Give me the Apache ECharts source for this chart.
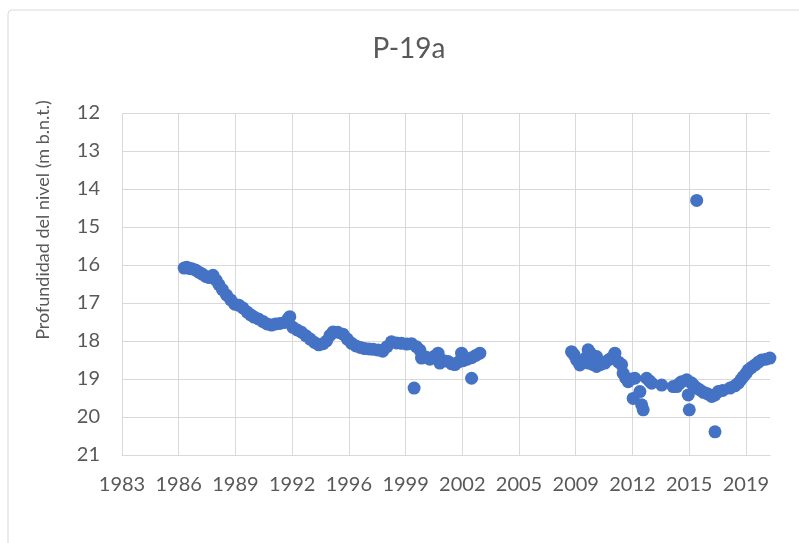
<!DOCTYPE html>
<html>
<head>
<meta charset="utf-8">
<script src="https://cdn.jsdelivr.net/npm/echarts@6/dist/echarts.min.js"></script>
<style>
  html, body { margin: 0; padding: 0; background: #fff; }
  #main { width: 799px; height: 543px; }
</style>
</head>
<body>
<div id="main"></div>
<script>
const TITLE = 'P-19a';
const Y_NAME = 'Profundidad del nivel (m b.n.t.)';
const START_YEAR = 1983;
const DAY_STEP = 1200;
const LAST_DAY = 13710;
const DEPTH_MIN = 12;
const DEPTH_MAX = 21;

// 1986 - 2003 record (decimal years / depth in m)
const yearsA = [1986.60, 1986.75, 1986.90, 1987.05, 1987.25, 1987.45, 1987.65, 1987.85, 1988.05, 1988.27,
  1988.45, 1988.62, 1988.82, 1989.05, 1989.30, 1989.53, 1989.78, 1990.00, 1990.25, 1990.45,
  1990.65, 1990.90, 1991.17, 1991.40, 1991.66, 1991.90, 1992.14, 1992.42, 1992.62, 1992.72,
  1992.90, 1993.15, 1993.40, 1993.65, 1993.90, 1994.15, 1994.40, 1994.65, 1994.85, 1995.05,
  1995.23, 1995.50, 1995.80, 1996.05, 1996.30, 1996.55, 1996.80, 1997.05, 1997.30, 1997.55,
  1997.84, 1998.10, 1998.35, 1998.61, 1998.90, 1999.19, 1999.50, 1999.77, 1999.92, 2000.05,
  2000.25, 2000.35, 2000.60, 2000.83, 2001.10, 2001.31, 2001.41, 2001.65, 2001.89, 2002.10,
  2002.28, 2002.50, 2002.67, 2002.76, 2003.00, 2003.25, 2003.25, 2003.50, 2003.73];
const depthA = [16.08, 16.06, 16.09, 16.10, 16.13, 16.19, 16.24, 16.30, 16.33, 16.27,
  16.40, 16.52, 16.65, 16.79, 16.92, 17.03, 17.06, 17.13, 17.24, 17.31,
  17.37, 17.42, 17.49, 17.55, 17.58, 17.55, 17.54, 17.51, 17.42, 17.36,
  17.64, 17.71, 17.77, 17.86, 17.95, 18.04, 18.10, 18.07, 18.00, 17.85,
  17.76, 17.77, 17.82, 17.95, 18.06, 18.13, 18.17, 18.20, 18.21, 18.22,
  18.24, 18.27, 18.15, 18.02, 18.05, 18.06, 18.08, 18.07, 19.24, 18.15,
  18.24, 18.45, 18.42, 18.48, 18.40, 18.32, 18.58, 18.52, 18.54, 18.60,
  18.62, 18.55, 18.32, 18.52, 18.48, 18.44, 18.98, 18.38, 18.32];

// 2009 - 2020 record
const yearsB = [2009.04, 2009.18, 2009.33, 2009.52, 2009.68, 2009.85, 2010.00, 2010.10, 2010.20, 2010.02,
  2010.30, 2010.49, 2010.49, 2010.70, 2010.97, 2011.17, 2011.35, 2011.55, 2011.75, 2011.94,
  2012.03, 2012.18, 2012.32, 2012.50, 2012.71, 2012.61, 2013.00, 2013.10, 2013.19, 2013.39,
  2013.55, 2013.68, 2014.26, 2014.93, 2015.13, 2015.28, 2015.42, 2015.71, 2015.80, 2015.86,
  2015.98, 2016.10, 2016.29, 2016.30, 2016.48, 2016.68, 2016.87, 2017.05, 2017.16, 2017.35,
  2017.35, 2017.54, 2017.80, 2018.22, 2018.50, 2018.70, 2018.85, 2018.99, 2019.15, 2019.28,
  2019.45, 2019.67, 2019.85, 2020.05, 2020.30, 2020.53];
const depthB = [18.28, 18.36, 18.50, 18.63, 18.56, 18.45, 18.23, 18.30, 18.40, 18.58,
  18.62, 18.67, 18.41, 18.62, 18.58, 18.50, 18.45, 18.32, 18.55, 18.62,
  18.85, 18.98, 19.07, 19.00, 18.98, 19.51, 19.33, 19.68, 19.81, 18.98,
  19.05, 19.11, 19.16, 19.20, 19.20, 19.12, 19.07, 19.02, 19.42, 19.81,
  19.10, 19.16, 14.30, 19.24, 19.29, 19.35, 19.38, 19.42, 19.46, 20.39,
  19.42, 19.33, 19.30, 19.24, 19.18, 19.11, 19.02, 18.94, 18.85, 18.76,
  18.70, 18.63, 18.56, 18.50, 18.48, 18.45];

const FONT = 'Lato';
const TEXT_COLOR = '#595959';
const GRID_COLOR = '#d9d9d9';

function toDay(year) {
  return (year - START_YEAR) * 365.25;
}

const points = yearsA.map((y, i) => [toDay(y), depthA[i]])
  .concat(yearsB.map((y, i) => [toDay(y), depthB[i]]));

const chart = echarts.init(document.getElementById('main'));

const option = {
  animation: false,
  backgroundColor: '#fff',
  grid: { left: 122, right: 29, top: 113, bottom: 88 },
  graphic: [
    {
      type: 'rect',
      shape: { x: 8, y: 10, width: 820, height: 560, r: 4 },
      style: { fill: 'none', stroke: GRID_COLOR, lineWidth: 1 },
      silent: true
    },
    {
      type: 'text',
      x: 409, y: 49,
      style: {
        text: TITLE, fill: TEXT_COLOR, font: '28px ' + FONT,
        align: 'center', verticalAlign: 'middle'
      }
    },
    {
      type: 'text',
      x: 43, y: 220,
      rotation: Math.PI / 2,
      style: {
        text: Y_NAME, fill: TEXT_COLOR, font: '18px ' + FONT,
        align: 'center', verticalAlign: 'middle'
      }
    }
  ],
  xAxis: {
    type: 'value',
    min: 0,
    max: LAST_DAY,
    interval: DAY_STEP,
    axisLine: { show: true, onZero: false, lineStyle: { color: GRID_COLOR, width: 1 } },
    axisTick: { show: false },
    axisLabel: {
      color: TEXT_COLOR, fontFamily: FONT, fontSize: 20, margin: 20,
      showMaxLabel: false,
      formatter: v => (v % DAY_STEP === 0 ? String(Math.floor(START_YEAR + v / 365.25)) : '')
    },
    splitLine: { show: true, showMaxLine: false, lineStyle: { color: GRID_COLOR, width: 1 } }
  },
  yAxis: {
    type: 'value',
    inverse: true,
    min: DEPTH_MIN,
    max: DEPTH_MAX,
    interval: 1,
    axisLine: { show: false },
    axisTick: { show: false },
    axisLabel: { color: TEXT_COLOR, fontFamily: FONT, fontSize: 20, margin: 22 },
    splitLine: { show: true, lineStyle: { color: GRID_COLOR, width: 1 } }
  },
  series: [{
    type: 'scatter',
    data: points,
    symbol: 'circle',
    symbolSize: 13,
    itemStyle: { color: '#4472C4', opacity: 1 }
  }]
};

chart.setOption(option);
</script>
</body>
</html>
